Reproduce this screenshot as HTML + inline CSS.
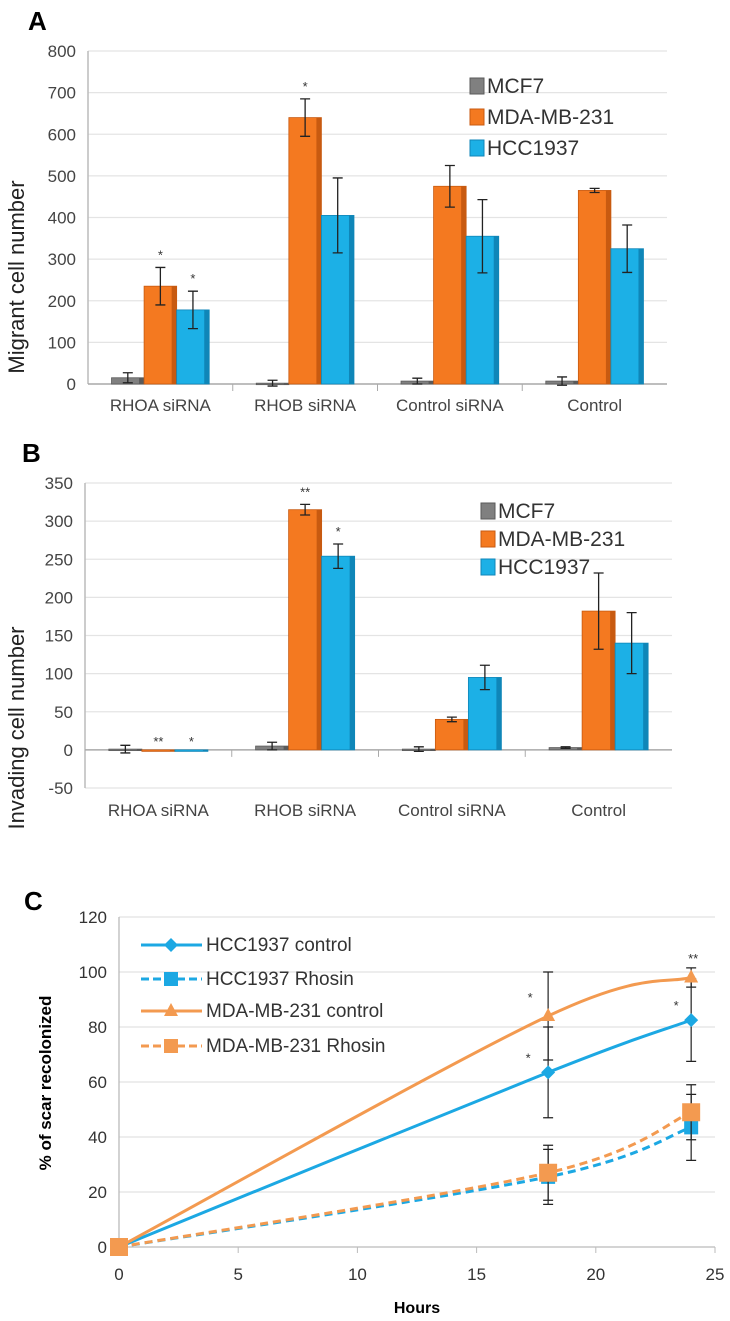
<!DOCTYPE html>
<html><head><meta charset="utf-8"><style>
body{margin:0;background:#fff;}
svg{display:block;font-family:"Liberation Sans",Arial,sans-serif;}
</style></head><body>
<svg id="fig" width="730" height="1321" viewBox="0 0 730 1321" xmlns="http://www.w3.org/2000/svg">
<text x="28" y="30" font-size="26" font-weight="bold">A</text>
<text x="22" y="462" font-size="26" font-weight="bold">B</text>
<text x="24" y="910" font-size="26" font-weight="bold">C</text>
<g id="ga"></g>
<g id="gb"></g>
<g id="gc"></g>
</svg>
<script>
const NS="http://www.w3.org/2000/svg";
const categories=["RHOA siRNA","RHOB siRNA","Control siRNA","Control"];
const seriesNames=["MCF7","MDA-MB-231","HCC1937"];
const aMCF7=[15,2,7,7], aMCF7Err=[12,7,7,10];
const aMDA=[235,640,475,465], aMDAErr=[45,45,50,5];
const aHCC=[178,405,355,325], aHCCErr=[45,90,88,57];
const aStars=[["","*","*"],["","*",""],["","",""],["","",""]];
const aTicks=[0,100,200,300,400,500,600,700,800];
const bMCF7=[1,5,1,3], bMCF7Err=[5,5,3,1];
const bMDA=[0,315,40,182], bMDAErr=[0,7,3,50];
const bHCC=[0,254,95,140], bHCCErr=[0,16,16,40];
const bStars=[["","**","*"],["","**","*"],["","",""],["","",""]];
const bTicks=[-50,0,50,100,150,200,250,300,350];
const cHours=[0,18,24];
const cHCCctl=[0,63.5,82.5], cHCCctlErr=[0,16.5,15];
const cHCCrho=[0,25.5,43.5], cHCCrhoErr=[0,10,12];
const cMDActl=[0,84,98], cMDActlErr=[0,16,3.5];
const cMDArho=[0,27,49], cMDArhoErr=[0,10,10];
const cYTicks=[0,20,40,60,80,100,120];
const cXTicks=[0,5,10,15,20,25];

function mk(tag,attrs,parent){const e=document.createElementNS(NS,tag);for(const k in attrs)e.setAttribute(k,attrs[k]);parent.appendChild(e);return e;}
const cols=[["#808080","#5a5a5a"],["#F47920","#c85a10"],["#1CB0E6","#0f86b8"]];

function barChart(g,o){
  const y=v=>o.y0+(v-o.min)/(o.max-o.min)*(o.y1-o.y0);
  o.ticks.forEach(t=>{
    const gl=mk('line',{x1:o.x0,x2:o.x1,y1:y(t),y2:y(t),stroke:'#e4e4e4','stroke-width':1.2},g);
    
    const tl=mk('text',{x:o.x0-12,y:y(t)+6,'font-size':17,'text-anchor':'end',fill:'#444'},g);tl.textContent=t;
    
  });
  const ax=mk('line',{x1:o.x0,x2:o.x0,y1:y(o.max),y2:y(o.min),stroke:'#bbb','stroke-width':1.5},g);
  
  const xa=mk('line',{x1:o.x0,x2:o.x1,y1:y(0),y2:y(0),stroke:'#aaa','stroke-width':1.5},g);
  
  const cw=(o.x1-o.x0)/categories.length, bw=cw*0.225, pad=(cw-3*bw)/2;
  categories.forEach((c,i)=>{
    const cx=o.x0+i*cw;
    if(i>0){const s=mk('line',{x1:cx,x2:cx,y1:y(0),y2:y(0)+7,stroke:'#aaa'},g);}
    const lt=mk('text',{x:cx+cw/2,y:o.labY,'font-size':17,'text-anchor':'middle',fill:'#444'},g);lt.textContent=c;
    
    o.series.forEach((s,j)=>{
      const v=s[0][i],e=s[1][i],bx=cx+pad+j*bw;
      const top=Math.min(y(v),y(0)),h=Math.max(Math.abs(y(v)-y(0)),1.5);
      const r=mk('rect',{x:bx,y:top,width:bw,height:h,fill:cols[j][0],stroke:cols[j][1],'stroke-width':0.8},g);
      
      const sd=mk('rect',{x:bx+bw-5,y:top,width:5,height:h,fill:cols[j][1]},g);
      
      if(e>0){const mx=bx+bw/2;
        const el=mk('path',{d:`M${mx},${y(v+e)}V${y(v-e)}M${mx-5},${y(v+e)}H${mx+5}M${mx-5},${y(v-e)}H${mx+5}`,stroke:'#222','stroke-width':1.3,fill:'none'},g);
        }
      const st=o.stars[j][i];
      if(st){const sy=e>0?y(v+e)-8:y(0)-4;
        const t=mk('text',{x:bx+bw/2,y:sy,'font-size':13,'text-anchor':'middle',fill:'#333'},g);t.textContent=st;
        }
    });
  });
  seriesNames.forEach((n,j)=>{
    const ly=o.legY[j];
    const r=mk('rect',{x:o.legX,y:ly-15,width:14,height:16,fill:cols[j][0],stroke:cols[j][1]},g);
    
    const t=mk('text',{x:o.legX+17,y:ly,'font-size':21,fill:'#333'},g);t.textContent=n;
    
  });
  const yt=mk('text',{x:0,y:0,'font-size':22,'text-anchor':'middle',fill:'#222',transform:`translate(${o.titleX},${o.titleY}) rotate(-90)`},g);yt.textContent=o.title;
  
}
barChart(document.getElementById('ga'),{x0:88,x1:667,y0:384,y1:51,min:0,max:800,ticks:aTicks,labY:411,
  series:[[aMCF7,aMCF7Err],[aMDA,aMDAErr],[aHCC,aHCCErr]],stars:[[aStars[0][0],aStars[1][0],aStars[2][0],aStars[3][0]],[aStars[0][1],aStars[1][1],aStars[2][1],aStars[3][1]],[aStars[0][2],aStars[1][2],aStars[2][2],aStars[3][2]]],
  legX:470,legY:[93,124,155],title:"Migrant cell number",titleX:24,titleY:277});
barChart(document.getElementById('gb'),{x0:85,x1:672,y0:788,y1:483,min:-50,max:350,ticks:bTicks,labY:816,
  series:[[bMCF7,bMCF7Err],[bMDA,bMDAErr],[bHCC,bHCCErr]],stars:[[bStars[0][0],bStars[1][0],bStars[2][0],bStars[3][0]],[bStars[0][1],bStars[1][1],bStars[2][1],bStars[3][1]],[bStars[0][2],bStars[1][2],bStars[2][2],bStars[3][2]]],
  legX:481,legY:[518,546,574],title:"Invading cell number",titleX:24,titleY:728});

// Panel C
(function(){
  const g=document.getElementById('gc');
  const X0=119,X1=715,Y0=1247,Y1=917;
  const x=v=>X0+v/25*(X1-X0), y=v=>Y0-v/120*(Y0-Y1);
  cYTicks.forEach(t=>{
    if(t>0){const l=mk('line',{x1:X0,x2:X1,y1:y(t),y2:y(t),stroke:'#e2e2e2','stroke-width':1.2},g);}
    const tl=mk('text',{x:X0-12,y:y(t)+6,'font-size':17,'text-anchor':'end',fill:'#333'},g);tl.textContent=t;
    
  });
  cXTicks.forEach(t=>{
    const s=mk('line',{x1:x(t),x2:x(t),y1:Y0,y2:Y0+6,stroke:'#bbb'},g);
    const tl=mk('text',{x:x(t),y:Y0+33,'font-size':17,'text-anchor':'middle',fill:'#333'},g);tl.textContent=t;
    
  });
  const ya=mk('line',{x1:X0,x2:X0,y1:Y1,y2:Y0,stroke:'#bbb','stroke-width':1.3},g);
  const xa=mk('line',{x1:X0,x2:X1,y1:Y0,y2:Y0,stroke:'#bbb','stroke-width':1.3},g);
  const xt=mk('text',{x:417,y:1313,'font-size':16,'font-weight':'bold','text-anchor':'middle'},g);xt.textContent='Hours';
  
  const yt=mk('text',{x:0,y:0,'font-size':17,'font-weight':'bold','text-anchor':'middle',transform:'translate(51,1083) rotate(-90)'},g);yt.textContent='% of scar recolonized';
  
  const series=[
    {n:"HCC1937 control",v:cHCCctl,e:cHCCctlErr,c:"#1CA8E3",d:false,m:"diamond"},
    {n:"HCC1937 Rhosin",v:cHCCrho,e:cHCCrhoErr,c:"#1CA8E3",d:true,m:"square"},
    {n:"MDA-MB-231 control",v:cMDActl,e:cMDActlErr,c:"#F39A50",d:false,m:"triangle"},
    {n:"MDA-MB-231 Rhosin",v:cMDArho,e:cMDArhoErr,c:"#F39A50",d:true,m:"square"}];
  function marker(m,px,py,c,big){
    let el;
    if(m==="diamond")el=mk('path',{d:`M${px},${py-7}L${px+7},${py}L${px},${py+7}L${px-7},${py}Z`,fill:c},g);
    else if(m==="triangle")el=mk('path',{d:`M${px},${py-8}L${px+7},${py+5}L${px-7},${py+5}Z`,fill:c},g);
    else {const s=big?18:14;el=mk('rect',{x:px-s/2,y:py-s/2,width:s,height:s,fill:c},g);}
    
  }
  series.forEach((s,k)=>{
    const P=cHours.map((h,i)=>[x(h),y(s.v[i])]);
    let d=`M${P[0][0]},${P[0][1]}`;
    for(let i=0;i<P.length-1;i++){
      const p0=P[Math.max(i-1,0)],p1=P[i],p2=P[i+1],p3=P[Math.min(i+2,P.length-1)];
      const t=0.5/3;
      d+=`C${p1[0]+(p2[0]-p0[0])*t},${p1[1]+(p2[1]-p0[1])*t} ${p2[0]-(p3[0]-p1[0])*t},${p2[1]-(p3[1]-p1[1])*t} ${p2[0]},${p2[1]}`;
    }
    const ln=mk('path',{d:d,fill:'none',stroke:s.c,'stroke-width':3,'stroke-dasharray':s.d?'8,5':'none'},g);
    
    cHours.forEach((h,i)=>{
      const px=x(h),py=y(s.v[i]),e=s.e[i];
      if(e>0){const eb=mk('path',{d:`M${px},${y(s.v[i]+e)}V${y(s.v[i]-e)}M${px-5},${y(s.v[i]+e)}H${px+5}M${px-5},${y(s.v[i]-e)}H${px+5}`,stroke:'#222','stroke-width':1.2,fill:'none'},g);
        }
      marker(s.m,px,py,s.c,s.m==="square"&&k===3||i===0&&s.m==="square");
    });
    const ly=[951,985,1017,1052][k];
    const ll=mk('line',{x1:141,x2:202,y1:ly-6,y2:ly-6,stroke:s.c,'stroke-width':3,'stroke-dasharray':s.d?'8,4':'none'},g);
    
    marker(s.m,171,ly-6,s.c,false);
    const lt=mk('text',{x:206,y:ly,'font-size':19,fill:'#333'},g);lt.textContent=s.n;
    
  });
  const stars=[[x(18)-18,y(84)-14,"*"],[x(18)-20,y(63.5)-10,"*"],[x(24)+2,y(101.5)-5,"**"],[x(24)-15,y(82.5)-10,"*"]];
  stars.forEach(s=>{const t=mk('text',{x:s[0],y:s[1],'font-size':13,'text-anchor':'middle',fill:'#333'},g);t.textContent=s[2];
    });
})();
</script>
</body></html>
